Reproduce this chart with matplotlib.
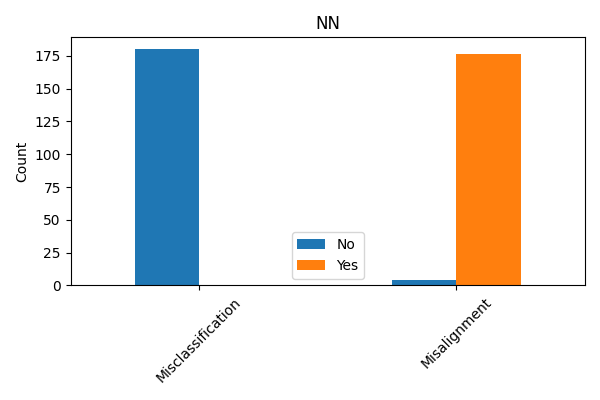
import numpy as np
import matplotlib
matplotlib.use('Agg')
import matplotlib.pyplot as plt

categories = ['Misclassification', 'Misalignment']
no_counts = [180, 4]
yes_counts = [0, 176]

fig, ax = plt.subplots(figsize=(6, 4), dpi=100)
x = np.arange(len(categories))
w = 0.25
ax.bar(x - w / 2, no_counts, w, label='No', color='#1f77b4')
ax.bar(x + w / 2, yes_counts, w, label='Yes', color='#ff7f0e')
ax.set_xlim(-0.5, len(categories) - 0.5)
ax.set_xticks(x)
ax.set_xticklabels(categories, rotation=45)
ax.set_ylabel('Count')
ax.set_title('NN')
ax.legend(loc='lower center')
plt.tight_layout()
plt.savefig('out.png')
